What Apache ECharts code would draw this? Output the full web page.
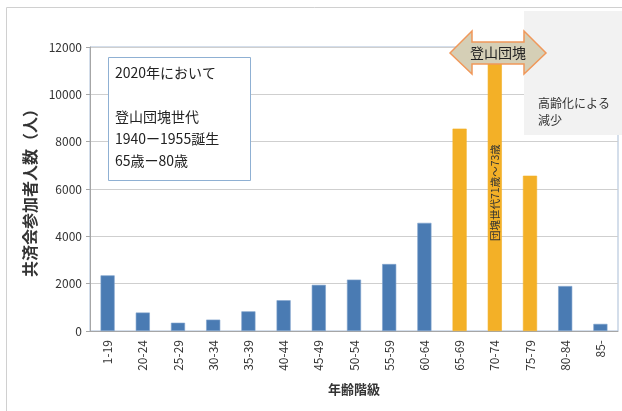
<!DOCTYPE html>
<html>
<head>
<meta charset="utf-8">
<script src="https://cdn.jsdelivr.net/npm/echarts@6/dist/echarts.min.js"></script>
<style>
  html, body { margin: 0; padding: 0; background: #fff; }
  #chart { width: 622px; height: 411px; }
</style>
</head>
<body>
<div id="chart"></div>
<script>
const ageGroups = ['1-19', '20-24', '25-29', '30-34', '35-39', '40-44', '45-49', '50-54',
    '55-59', '60-64', '65-69', '70-74', '75-79', '80-84', '85-'];
const members = [2350, 780, 350, 480, 830, 1300, 1950, 2170, 2830, 4570, 8550, 11700, 6560, 1900, 300];
// groups belonging to the 登山団塊 generation
const boomerGroups = ['65-69', '70-74', '75-79'];
const yTicks = { min: 0, max: 12000, interval: 2000 };

const FONT = '"Noto Sans CJK JP", "Noto Sans", sans-serif';
const BLUE = '#4a7bb3';
const ORANGE = '#f3b027';

const chart = echarts.init(document.getElementById('chart'));

const barData = members.map((v, i) => {
    const item = { value: v };
    if (boomerGroups.includes(ageGroups[i])) {
        item.itemStyle = { color: ORANGE, borderColor: ORANGE };
    }
    if (ageGroups[i] === '70-74') {
        item.label = {
            show: true,
            position: 'inside',
            rotate: 90,
            formatter: '団塊世代71歳～73歳',
            fontSize: 10.5,
            fontFamily: FONT,
            color: '#333'
        };
    }
    return item;
});

const option = {
    animation: false,
    grid: {
        left: 90, right: 4, top: 47, bottom: 80,
        show: true,
        borderColor: '#a9bdd6',
        borderWidth: 1
    },
    xAxis: {
        type: 'category',
        data: ageGroups,
        name: '年齢階級',
        nameLocation: 'middle',
        nameGap: 52,
        nameTextStyle: { fontFamily: FONT, fontSize: 13, fontWeight: 'bold', color: '#333' },
        axisLine: { lineStyle: { color: '#a6a6a6' } },
        axisTick: { inside: true, length: 5, lineStyle: { color: '#c8c8c8' } },
        axisLabel: { rotate: 90, fontSize: 12, fontFamily: FONT, color: '#333', margin: 9 }
    },
    yAxis: {
        type: 'value',
        min: yTicks.min,
        max: yTicks.max,
        interval: yTicks.interval,
        name: '共済会参加者人数（人）',
        nameLocation: 'middle',
        nameRotate: 90,
        nameGap: 49,
        nameTextStyle: { fontFamily: FONT, fontSize: 16, fontWeight: 'bold', color: '#333' },
        axisLine: { show: true, lineStyle: { color: '#a6a6a6' } },
        axisTick: { show: true, length: 4, lineStyle: { color: '#a6a6a6' } },
        axisLabel: { fontSize: 12, fontFamily: FONT, color: '#333', margin: 8, formatter: v => String(v) },
        splitLine: { lineStyle: { color: '#cfcfcf' } }
    },
    series: [{
        type: 'bar',
        data: barData,
        barWidth: '40%',
        itemStyle: { color: BLUE, borderColor: '#7fa3cc', borderWidth: 0.6 },
        z: 2
    }],
    graphic: [
        // outer chart frame
        { type: 'rect', shape: { x: 6.5, y: 7.5, width: 700, height: 500 },
          style: { fill: 'none', stroke: '#d0d0d0', lineWidth: 1 }, z: -10 },
        // note box
        { type: 'rect', shape: { x: 108.5, y: 57.5, width: 142, height: 123 },
          style: { fill: '#fff', stroke: '#8fb0d3', lineWidth: 1 }, z: 10 },
        { type: 'text', left: 115, top: 62, z: 11,
          style: { text: '2020年において\n\n登山団塊世代\n1940ー1955誕生\n65歳ー80歳',
                   font: '14px ' + FONT, fill: '#222', lineHeight: 22 } },
        // grey box at right
        { type: 'rect', shape: { x: 524, y: 11, width: 110, height: 124 },
          style: { fill: '#f2f2f2' }, z: 9 },
        { type: 'text', left: 538, top: 95, z: 11,
          style: { text: '高齢化による\n減少', font: '12px ' + FONT, fill: '#333', lineHeight: 17 } },
        // double arrow
        { type: 'polygon', z: 12,
          shape: { points: [[450, 53], [472, 31], [472, 42], [524, 42], [524, 31], [546, 53],
                            [524, 74], [524, 64], [472, 64], [472, 74]] },
          style: { fill: '#d5cfb6', stroke: '#f0985a', lineWidth: 1.5 } },
        { type: 'text', x: 498, y: 53, z: 13,
          style: { text: '登山団塊', font: '14px ' + FONT, fill: '#222', align: 'center', verticalAlign: 'middle' } }
    ]
};

chart.setOption(option);
</script>
</body>
</html>
